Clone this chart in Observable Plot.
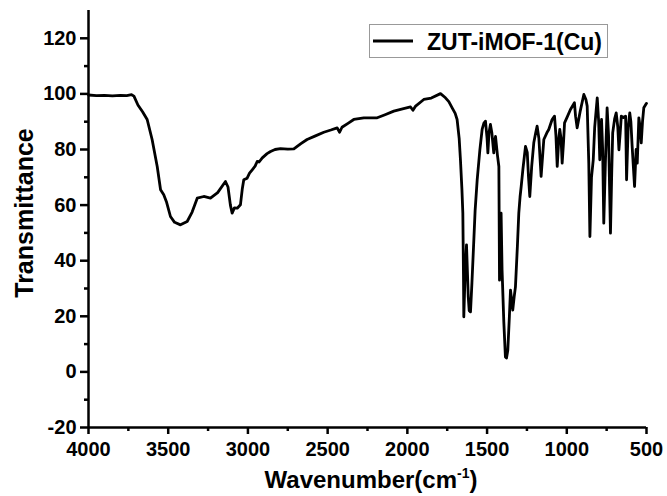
<!DOCTYPE html>
<html><head><meta charset="utf-8">
<script src="https://cdn.jsdelivr.net/npm/d3@7"></script>
<script src="https://cdn.jsdelivr.net/npm/@observablehq/plot@0.6"></script>
<style>
body{margin:0;background:#fff;}
#chart{position:relative;width:667px;height:496px;}
</style></head><body><div id="chart"></div>
<script>
const wavenumber = [4000,3950,3900,3850,3800,3760,3730,3715,3690,3660,3632,3601,3569,3548,3528,3510,3486,3460,3423,3381,3350,3318,3277,3235,3190,3141,3125,3110,3099,3085,3067,3047,3035,3026,3005,2990,2973,2955,2942,2930,2910,2880,2858,2830,2796,2750,2712,2670,2629,2580,2524,2480,2440,2425,2410,2370,2336,2273,2189,2140,2085,2030,1980,1965,1950,1897,1850,1792,1761,1740,1719,1700,1688,1675,1667,1658,1652,1648,1646,1638,1629,1618,1612,1604,1595,1583,1575,1562,1545,1531,1520,1510,1500,1495,1488,1479,1470,1458,1452,1447,1435,1426,1422,1418,1412,1406,1395,1385,1378,1370,1360,1353,1346,1339,1330,1322,1310,1301,1293,1286,1275,1259,1248,1240,1232,1220,1207,1195,1186,1175,1161,1150,1144,1125,1113,1092,1077,1068,1060,1050,1044,1036,1029,1020,1014,995,977,952,945,935,915,893,880,872,862,855,845,834,825,809,800,793,782,775,768,758,747,738,726,718,712,700,690,680,673,665,658,645,631,625,615,605,598,590,575,565,558,548,540,533,525,517,500];
const transmittance = [99.6,99.4,99.5,99.3,99.5,99.4,99.7,99.2,96,93.5,90.8,83.6,73.9,65.5,63.7,61,55.9,53.8,52.9,54.1,57.5,62.5,63.1,62.5,64.5,68.5,66.5,60,57.1,59,58.9,60.1,66,69.1,69.7,71.5,72.7,74,75.7,75.5,77,78.5,79.3,80,80.3,80.1,80.2,82,83.6,84.8,86.2,87,87.8,86.2,88,89.5,90.8,91.4,91.4,92.5,93.8,94.6,95.3,94.1,95.5,98,98.5,100.1,98.6,97.2,95,93,90.8,84,76.3,66,57.1,35,19.8,35,45.7,27,22,21.6,32,47.5,58,69.1,80,87.2,89.5,90.2,84,78.8,86,89,86,78.8,83,84.7,78,73.9,33,45,57.1,36.7,18,5.4,5,7.8,20,29.4,26,22.2,27,30.6,45,57.1,63,66.7,73,81.1,79,70,63.1,74,82.4,86,88.4,84,70.3,79,83.6,86,87.2,90.8,92,85,73.9,84,87.2,84,75.1,83,89.6,92,94.4,96.8,92,87.8,94,99.8,98,95.6,75,48.7,70,76.3,88,98.6,90,76.3,90.8,80,53.5,75,95,85,49.9,72,86,91,93.2,88,79.9,86,92,91.5,92,69.1,88,93.2,90,81.1,66.7,80,75.1,91.4,88,82.4,90,95,96.6];
const xTicks = [4000,3500,3000,2500,2000,1500,1000,500];
const xMinorTicks = [3750,3250,2750,2250,1750,1250,750];
const yTicks = [-20,0,20,40,60,80,100,120];
const yMinorTicks = [-10,10,30,50,70,90,110];
const seriesName = "ZUT-iMOF-1(Cu)";
const xLabelMain = "Wavenumber(cm";
const xLabelSup = "-1";
const xLabelEnd = ")";
const yLabel = "Transmittance";

const data = wavenumber.map((w, i) => ({w, t: transmittance[i]}));
const font = "'Liberation Sans', Arial, sans-serif";
const W = 667, H = 496, mL = 88, mR = 21, mT = 10, mB = 69;

const plot = Plot.plot({
  width: W, height: H, marginLeft: mL, marginRight: mR, marginTop: mT, marginBottom: mB,
  style: {fontFamily: font, background: "#fff", color: "#000", overflow: "visible"},
  x: {domain: [4000, 500]},
  y: {domain: [-20, 130]},
  marks: [
    Plot.axisX({ticks: xTicks, tickSize: 7, tickPadding: 7, tickFormat: d => String(d), fontSize: 20, fontWeight: "bold", strokeWidth: 2.5, label: null}),
    Plot.axisX({ticks: xMinorTicks, tickSize: 4, tickFormat: () => "", strokeWidth: 2.5, label: null}),
    Plot.axisY({ticks: yTicks, tickSize: 8, tickPadding: 4, tickFormat: d => String(d), fontSize: 20, fontWeight: "bold", strokeWidth: 2.5, label: null}),
    Plot.axisY({ticks: yMinorTicks, tickSize: 4, tickFormat: () => "", strokeWidth: 2.5, label: null}),
    Plot.ruleX([4000], {strokeWidth: 2.5}),
    Plot.ruleY([-20], {strokeWidth: 2.5}),
    Plot.line(data, {x: "w", y: "t", stroke: "#000", strokeWidth: 2.8, strokeLinejoin: "round", strokeLinecap: "round"})
  ]
});
document.getElementById("chart").appendChild(plot);

const svg = d3.select(plot);
// y label
svg.append("text")
  .attr("transform", "translate(33,213) rotate(-90)")
  .attr("text-anchor", "middle")
  .attr("font-family", font).attr("font-weight", "bold").attr("font-size", 25)
  .attr("fill", "#000")
  .text(yLabel);
// x label
const xl = svg.append("text")
  .attr("x", 371).attr("y", 488)
  .attr("text-anchor", "middle")
  .attr("font-family", font).attr("font-weight", "bold").attr("font-size", 24)
  .attr("fill", "#000");
xl.append("tspan").text(xLabelMain);
xl.append("tspan").attr("font-size", 14).attr("dy", -10).text(xLabelSup);
xl.append("tspan").attr("dy", 10).text(xLabelEnd);
// legend
const lg = svg.append("g");
lg.append("rect").attr("x", 369.5).attr("y", 24.5).attr("width", 238).attr("height", 33)
  .attr("fill", "#fff").attr("stroke", "#999").attr("stroke-width", 1);
lg.append("line").attr("x1", 373).attr("x2", 413).attr("y1", 41).attr("y2", 41)
  .attr("stroke", "#000").attr("stroke-width", 3);
lg.append("text").attr("x", 427).attr("y", 49.5)
  .attr("text-anchor", "start")
  .attr("font-family", font).attr("font-weight", "bold").attr("font-size", 23)
  .attr("fill", "#000").text(seriesName);
</script></body></html>
